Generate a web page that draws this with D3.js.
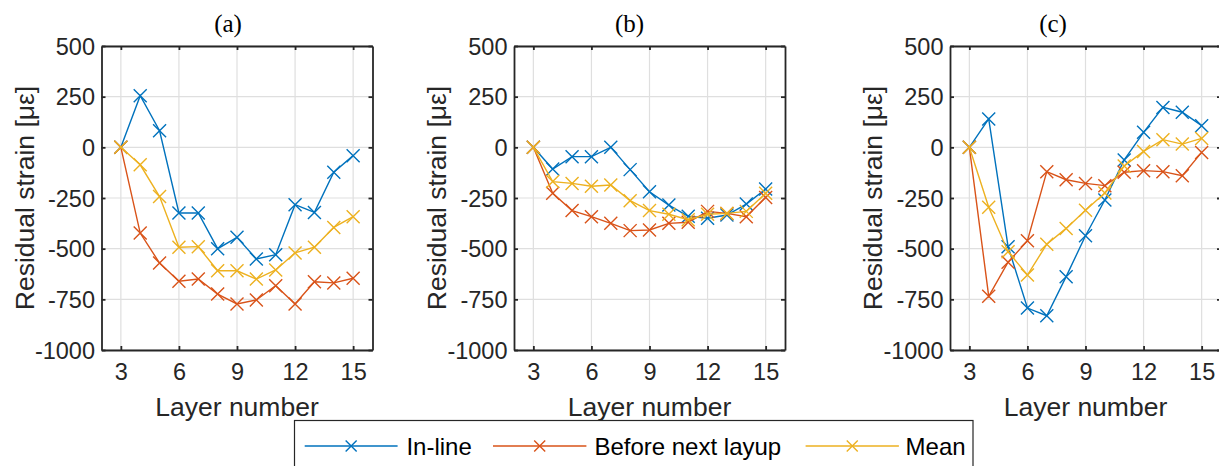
<!DOCTYPE html>
<html>
<head>
<meta charset="utf-8">
<script src="https://cdn.jsdelivr.net/npm/d3@7"></script>
<style>
  html, body { margin: 0; padding: 0; background: #fff; overflow: hidden; }
  svg { display: block; }
</style>
</head>
<body>
<svg id="chart" width="1219" height="466"></svg>
<script>
// ---------- data ----------
const layers = [3, 4, 5, 6, 7, 8, 9, 10, 11, 12, 13, 14, 15];
const xTicks = [3, 6, 9, 12, 15];
const yTicks = [-1000, -750, -500, -250, 0, 250, 500];
const seriesNames = ["In-line", "Before next layup", "Mean"];
const panelTitles = ["(a)", "(b)", "(c)"];

const aInline = [0, 255, 82, -324, -324, -500, -444, -551, -530, -283, -321, -123, -41];
const aBefore = [0, -423, -571, -661, -650, -724, -773, -753, -683, -773, -663, -669, -646];
const aMean   = [0, -86, -243, -493, -490, -609, -609, -650, -605, -521, -493, -395, -342];

const bInline = [0, -107, -46, -46, 0, -110, -219, -285, -340, -350, -334, -280, -206];
const bBefore = [0, -227, -312, -342, -375, -411, -408, -375, -370, -316, -326, -342, -247];
const bMean   = [0, -169, -178, -192, -186, -263, -312, -330, -357, -330, -326, -316, -227];

const cInline = [0, 140, -490, -793, -831, -638, -436, -260, -62, 74, 197, 173, 107];
const cBefore = [0, -735, -567, -461, -120, -160, -178, -189, -123, -115, -120, -140, -25];
const cMean   = [0, -296, -515, -630, -478, -400, -310, -225, -92, -20, 38, 16, 44];

const panelsData = [
  [aInline, aBefore, aMean],
  [bInline, bBefore, bMean],
  [cInline, cBefore, cMean]
];

// ---------- style / layout ----------
const colors = ["#0072BD", "#D95319", "#EDB120"];
const axisColor = "#262626";
const gridColor = "#dfdfdf";
const sans = "'Liberation Sans', Arial, Helvetica, sans-serif";
const serif = "'Liberation Serif', 'Times New Roman', serif";

const panelLefts = [101.5, 514, 950];
const panelTitleX = [228, 629.5, 1053];
const plotW = 271, plotTop = 46, plotBottom = 350;
const tickFont = 23.5, labelFont = 26.5;
const fmt = d => String(d);

const svg = d3.select("#chart");

function xMark(g, cx, cy, r, color) {
  g.append("path")
    .attr("d", `M${cx - r},${cy - r}L${cx + r},${cy + r}M${cx - r},${cy + r}L${cx + r},${cy - r}`)
    .attr("stroke", color).attr("stroke-width", 1.4).attr("fill", "none");
}

panelsData.forEach((series, pi) => {
  const left = panelLefts[pi];
  const x = d3.scaleLinear().domain([2, 16]).range([left, left + plotW]);
  const y = d3.scaleLinear().domain([-1000, 500]).range([plotBottom, plotTop]);
  const g = svg.append("g");

  // grid
  g.selectAll(".gx").data(xTicks).enter().append("line")
    .attr("x1", d => x(d)).attr("x2", d => x(d))
    .attr("y1", plotTop).attr("y2", plotBottom)
    .attr("stroke", gridColor).attr("stroke-width", 1.2);
  g.selectAll(".gy").data(yTicks).enter().append("line")
    .attr("x1", left).attr("x2", left + plotW)
    .attr("y1", d => y(d)).attr("y2", d => y(d))
    .attr("stroke", gridColor).attr("stroke-width", 1.2);

  // series
  series.forEach((vals, si) => {
    const pts = layers.map((l, i) => [l, vals[i]]);
    const line = d3.line().x(d => x(d[0])).y(d => y(d[1]));
    g.append("path").datum(pts)
      .attr("d", line).attr("fill", "none")
      .attr("stroke", colors[si]).attr("stroke-width", 1.4);
    pts.forEach(p => xMark(g, x(p[0]), y(p[1]), 6.5, colors[si]));
  });

  // axes (box with inward ticks on all sides)
  const axB = d3.axisBottom(x).tickValues(xTicks).tickFormat(fmt).tickSizeInner(-4).tickSizeOuter(0).tickPadding(10);
  const axT = d3.axisTop(x).tickValues(xTicks).tickSizeInner(-4).tickSizeOuter(0).tickFormat("");
  const axL = d3.axisLeft(y).tickValues(yTicks).tickFormat(fmt).tickSizeInner(-4).tickSizeOuter(0).tickPadding(10);
  const axR = d3.axisRight(y).tickValues(yTicks).tickSizeInner(-4).tickSizeOuter(0).tickFormat("");

  const gB = g.append("g").attr("transform", `translate(0,${plotBottom})`).call(axB);
  const gT = g.append("g").attr("transform", `translate(0,${plotTop})`).call(axT);
  const gL = g.append("g").attr("transform", `translate(${left},0)`).call(axL);
  const gR = g.append("g").attr("transform", `translate(${left + plotW},0)`).call(axR);

  [gB, gT, gL, gR].forEach(a => {
    a.select(".domain").attr("stroke", axisColor).attr("stroke-width", 1.8);
    a.selectAll(".tick line").attr("stroke", axisColor).attr("stroke-width", 1.8);
    a.selectAll(".tick text").attr("fill", axisColor)
      .style("font-family", sans).style("font-size", tickFont + "px");
  });
  gB.selectAll(".tick text").attr("dy", null).attr("y", 30);
  gL.selectAll(".tick text").attr("dy", "0.35em").attr("x", -6.5);

  // labels
  g.append("text")
    .attr("x", left + plotW / 2).attr("y", 416)
    .attr("text-anchor", "middle").attr("fill", axisColor)
    .style("font-family", sans).style("font-size", labelFont + "px")
    .text("Layer number");
  g.append("text")
    .attr("transform", `translate(${left - 68},${(plotTop + plotBottom) / 2}) rotate(-90)`)
    .attr("text-anchor", "middle").attr("fill", axisColor)
    .style("font-family", sans).style("font-size", labelFont + "px")
    .text("Residual strain [με]");
  g.append("text")
    .attr("x", panelTitleX[pi]).attr("y", 32)
    .attr("text-anchor", "middle").attr("fill", "#000")
    .style("font-family", serif).style("font-size", "25px")
    .text(panelTitles[pi]);
});

// ---------- legend ----------
const lg = svg.append("g");
lg.append("rect")
  .attr("x", 294.5).attr("y", 420.5).attr("width", 678.5).attr("height", 60)
  .attr("fill", "#fff").attr("stroke", axisColor).attr("stroke-width", 1.2);
const legLineX = [[304.7, 397.6], [493, 586.4], [805.6, 898.9]];
const legTextX = [406.4, 594.4, 905.6];
const legY = 446;
seriesNames.forEach((name, i) => {
  lg.append("line")
    .attr("x1", legLineX[i][0]).attr("x2", legLineX[i][1])
    .attr("y1", legY).attr("y2", legY)
    .attr("stroke", colors[i]).attr("stroke-width", 1.6);
  xMark(lg, (legLineX[i][0] + legLineX[i][1]) / 2, legY, 5.5, colors[i]);
  lg.append("text")
    .attr("x", legTextX[i]).attr("y", legY + 8.5)
    .attr("fill", "#000")
    .style("font-family", sans).style("font-size", "24px")
    .text(name);
});
</script>
</body>
</html>
